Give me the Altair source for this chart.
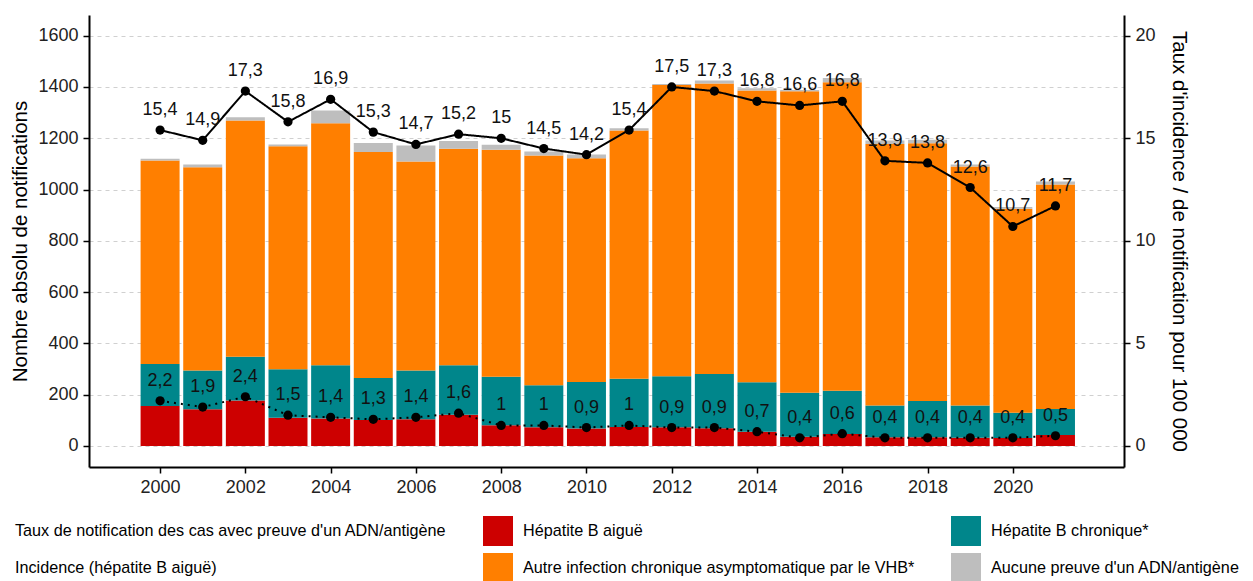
import altair as alt
import pandas as pd

years = list(range(2000, 2022))

# counts per category (stacked bars, left axis)
aigue = [156, 143, 177, 110, 107, 101, 104, 122, 81, 73, 68, 74, 73, 69, 56, 36, 47, 34, 34, 32, 31, 43]
chronique = [164, 151, 171, 189, 208, 164, 190, 193, 189, 164, 182, 188, 199, 212, 193, 172, 168, 124, 141, 126, 99, 101]
autre = [793, 793, 921, 870, 944, 881, 815, 844, 885, 896, 872, 968, 1136, 1133, 1137, 1175, 1203, 1020, 1006, 932, 795, 876]
aucune = [7, 11, 13, 7, 49, 36, 63, 30, 20, 15, 15, 9, 4, 11, 9, 5, 17, 13, 13, 8, 7, 11]

# rates per 100 000 (right axis)
taux_total = [15.4, 14.9, 17.3, 15.8, 16.9, 15.3, 14.7, 15.2, 15, 14.5, 14.2, 15.4, 17.5, 17.3, 16.8, 16.6, 16.8, 13.9, 13.8, 12.6, 10.7, 11.7]
incidence_aigue = [2.2, 1.9, 2.4, 1.5, 1.4, 1.3, 1.4, 1.6, 1, 1, 0.9, 1, 0.9, 0.9, 0.7, 0.4, 0.6, 0.4, 0.4, 0.4, 0.4, 0.5]

lab_taux = "Taux de notification des cas avec preuve d'un ADN/antigène"
lab_aigue = "Hépatite B aiguë"
lab_chron = "Hépatite B chronique*"
lab_inc = "Incidence (hépatite B aiguë)"
lab_autre = "Autre infection chronique asymptomatique par le VHB*"
lab_aucune = "Aucune preuve d'un ADN/antigène"

# legend fills column by column (2 rows x 3 columns)
legend_domain = [lab_taux, lab_inc, lab_aigue, lab_autre, lab_chron, lab_aucune]
legend_range = ["#ffffff", "#ffffff", "#CD0000", "#FF7F00", "#00868B", "#BEBEBE"]

rows = []
for i, y in enumerate(years):
    for k, (cat, vals) in enumerate([(lab_aigue, aigue), (lab_chron, chronique),
                                      (lab_autre, autre), (lab_aucune, aucune)]):
        rows.append({"year": y, "cat": cat, "count": vals[i], "ord": k})
bars_df = pd.DataFrame(rows)

rrows = []
for i, y in enumerate(years):
    rrows.append({"year": y, "serie": "total", "rate": taux_total[i],
                  "label": f"{taux_total[i]:g}".replace(".", ",")})
    rrows.append({"year": y, "serie": "aigue", "rate": incidence_aigue[i],
                  "label": f"{incidence_aigue[i]:g}".replace(".", ",")})
rate_df = pd.DataFrame(rrows)

FONT = "Liberation Sans"
x_scale = alt.Scale(domain=[1998.45, 2022.49], nice=False, zero=False)
x_axis = alt.Axis(values=list(range(2000, 2021, 2)), format="d", title=None, grid=False,
                  domainColor="black", domainWidth=2, tickColor="black", tickWidth=1.5,
                  tickSize=6, labelFontSize=18, labelColor="#222222", labelPadding=5)

count_scale = alt.Scale(domain=[-81.9, 1680.7], nice=False, zero=False)
rate_scale = alt.Scale(domain=[-81.9 / 80, 1680.7 / 80], nice=False, zero=False)

bars = alt.Chart(bars_df).mark_bar(size=39).encode(
    x=alt.X("year:Q", scale=x_scale, axis=x_axis),
    y=alt.Y("count:Q", stack="zero", scale=count_scale,
            axis=alt.Axis(values=list(range(0, 1601, 200)), format="d",
                          title="Nombre absolu de notifications",
                          grid=True, gridDash=[4, 4], gridColor="#d0d0d0", gridWidth=1,
                          domainColor="black", domainWidth=2, tickColor="black",
                          tickWidth=1.5, tickSize=6, labelFontSize=18, labelColor="#222222",
                          labelPadding=5, titleFontSize=20.5, titleFontWeight="normal",
                          titleColor="black", titlePadding=7)),
    color=alt.Color("cat:N", scale=alt.Scale(domain=legend_domain, range=legend_range),
                    legend=alt.Legend(orient="none", legendX=-114, legendY=501, columns=3,
                                      title=None, symbolType="square", symbolSize=900,
                                      symbolStrokeWidth=0, labelFontSize=16.2,
                                      labelOffset=10, rowPadding=7, columnPadding=36,
                                      padding=0, labelLimit=700, labelColor="black")),
    order=alt.Order("ord:Q"),
)

rate_axis = alt.Axis(orient="right", values=[0, 5, 10, 15, 20], format="d",
                     title="Taux d'incidence / de notification pour 100 000",
                     grid=False, domainColor="black", domainWidth=2, tickColor="black",
                     tickWidth=1.5, tickSize=6, labelFontSize=18, labelColor="#222222",
                     labelPadding=5, titleFontSize=20.5, titleFontWeight="normal",
                     titleColor="black", titlePadding=13)

base = alt.Chart(rate_df).encode(
    x=alt.X("year:Q", scale=x_scale, axis=x_axis),
    y=alt.Y("rate:Q", scale=rate_scale, axis=rate_axis),
)

lines = base.mark_line(color="black", strokeWidth=2).encode(
    detail="serie:N",
    strokeDash=alt.StrokeDash("serie:N", scale=alt.Scale(domain=["total", "aigue"],
                                                          range=[[1, 0], [2, 5]]),
                              legend=None),
)
points = base.mark_circle(color="black", size=85, opacity=1)
labels = base.mark_text(fontSize=18, dy=-20, color="#111111", baseline="middle").encode(
    text="label:N")

rates = alt.layer(lines, points, labels)

chart = alt.layer(bars, rates).resolve_scale(
    y="independent", color="independent", strokeDash="independent"
).properties(
    width=1035, height=452,
    autosize=alt.AutoSizeParams(type="none"),
    padding={"left": 81, "top": 7, "right": 121, "bottom": 140},
).configure(font=FONT).configure_view(strokeWidth=0)

chart.save("out.html", embed_options={"renderer": "svg", "actions": False})
